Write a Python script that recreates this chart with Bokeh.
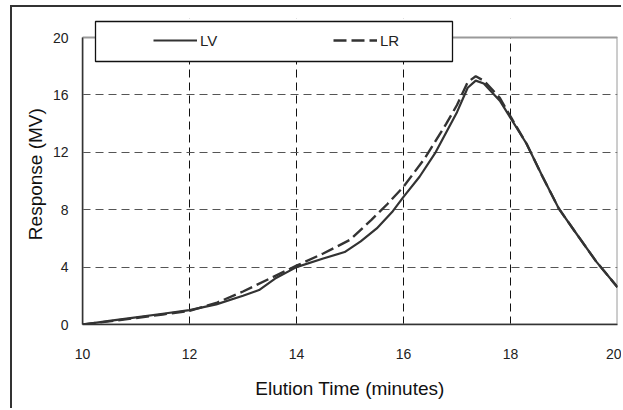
from bokeh.plotting import figure
from bokeh.models import Legend, LegendItem, BoxAnnotation, Range1d, FixedTicker
from bokeh.embed import file_html
from bokeh.resources import INLINE

# LV curve (solid)
time_lv = [10, 10.5, 11, 11.5, 12, 12.5, 13, 13.3, 13.6, 14, 14.5, 14.9, 15.2, 15.5,
           15.8, 16, 16.3, 16.6, 17, 17.2, 17.35, 17.5, 17.8, 18, 18.3, 18.6, 18.9,
           19.2, 19.6, 20]
resp_lv = [0, 0.25, 0.5, 0.75, 1.0, 1.4, 2.0, 2.4, 3.2, 4.0, 4.6, 5.05, 5.8, 6.7,
           7.9, 8.9, 10.3, 12.0, 14.8, 16.5, 17.0, 16.8, 15.6, 14.4, 12.6, 10.3, 8.1,
           6.5, 4.4, 2.6]

# LR curve (dashed)
time_lr = [10, 10.5, 11, 11.5, 12, 12.5, 13, 13.5, 14, 14.5, 15, 15.4, 15.7, 16,
           16.4, 16.8, 17, 17.2, 17.35, 17.5, 17.8, 18, 18.3, 18.6, 18.9, 19.2,
           19.6, 20]
resp_lr = [0, 0.22, 0.45, 0.7, 0.95, 1.5, 2.3, 3.2, 4.1, 4.95, 5.9, 7.3, 8.4, 9.6,
           11.6, 14.0, 15.3, 16.9, 17.3, 17.0, 15.8, 14.5, 12.6, 10.3, 8.1, 6.5,
           4.4, 2.6]

x_ticks = [10, 12, 14, 16, 18, 20]
y_ticks = [0, 4, 8, 12, 16, 20]
x_min, x_max = 10, 20
y_min, y_max = 0, 20

FONT = "Liberation Sans"

# the frame reaches a little above y=20 so that the legend box (which sits
# across the top edge of the plot area) is not clipped
p = figure(width=611, height=403, output_backend="svg", toolbar_location=None,
           x_range=Range1d(x_min, x_max), y_range=Range1d(y_min, 21.33),
           min_border_left=70, min_border_right=6, min_border_top=11,
           min_border_bottom=86)
p.styles = {"border-left": "2px solid #333333", "border-top": "2px solid #333333",
            "margin-left": "10px", "margin-top": "5px"}

p.background_fill_color = "white"
p.border_fill_color = "white"
p.outline_line_color = None

# grids
p.xgrid.ticker = FixedTicker(ticks=x_ticks)
p.ygrid.ticker = FixedTicker(ticks=y_ticks)
p.xgrid.grid_line_color = "#111111"
p.xgrid.grid_line_dash = "8 5"
p.xgrid.grid_line_width = 1
p.ygrid.grid_line_color = "#555555"
p.ygrid.grid_line_dash = "8 5"
p.ygrid.grid_line_width = 1

# white cover above the plot area (hides grid lines there)
cover = BoxAnnotation(left=x_min - 1, right=x_max + 1, bottom=y_max, top=y_max + 5,
                      fill_color="white", fill_alpha=1, line_color=None,
                      level="underlay")
p.add_layout(cover)

# plot area border (grey); left/bottom are covered by the dark axis lines
border = BoxAnnotation(left=x_min, right=x_max, bottom=y_min, top=y_max,
                       fill_alpha=0, line_color="#9a9a9a", line_alpha=1,
                       line_width=2, level="underlay")
p.add_layout(border)

# axes
for ax in (p.xaxis[0], p.yaxis[0]):
    ax.major_tick_line_color = None
    ax.minor_tick_line_color = None
    ax.major_tick_out = 0
    ax.minor_tick_out = 0
    ax.major_tick_in = 0
    ax.minor_tick_in = 0
    ax.axis_line_color = "#333333"
    ax.axis_line_width = 1.5
    ax.major_label_text_font = FONT
    ax.major_label_text_font_size = "14px"
    ax.major_label_text_color = "#222222"
    ax.axis_label_text_font = FONT
    ax.axis_label_text_font_size = "19px"
    ax.axis_label_text_font_style = "normal"
    ax.axis_label_text_color = "#111111"

p.xaxis.ticker = FixedTicker(ticks=x_ticks)
p.yaxis.ticker = FixedTicker(ticks=y_ticks)
p.yaxis.bounds = (y_min, y_max)
p.xaxis.axis_label = "Elution Time (minutes)"
p.yaxis.axis_label = "Response  (MV)"
p.xaxis.major_label_standoff = 24
p.yaxis.major_label_standoff = 14
p.xaxis.axis_label_standoff = 16
p.yaxis.axis_label_standoff = 4

r_lv = p.line(time_lv, resp_lv, line_color="#333333", line_width=2.2)
r_lr = p.line(time_lr, resp_lr, line_color="#333333", line_width=2.4,
              line_dash="13 5")

# legend box
lbox = BoxAnnotation(left=81, right=438, top=12, bottom=52,
                     left_units="canvas", right_units="canvas",
                     top_units="canvas", bottom_units="canvas",
                     fill_color="white", fill_alpha=1, line_color="#111111",
                     line_alpha=1, line_width=1.3, level="annotation")
p.add_layout(lbox)

legend = Legend(items=[LegendItem(label="LV", renderers=[r_lv]),
                       LegendItem(label="LR", renderers=[r_lr])],
                orientation="horizontal", location=(71, 274),
                border_line_color=None, background_fill_alpha=0,
                padding=0, margin=0, spacing=0, glyph_width=44, glyph_height=20,
                label_height=20, label_width=133, label_standoff=3,
                label_text_font=FONT, label_text_font_size="15px",
                label_text_color="#222222")
p.add_layout(legend, "center")

open("out.html", "w").write(file_html(p, INLINE))
